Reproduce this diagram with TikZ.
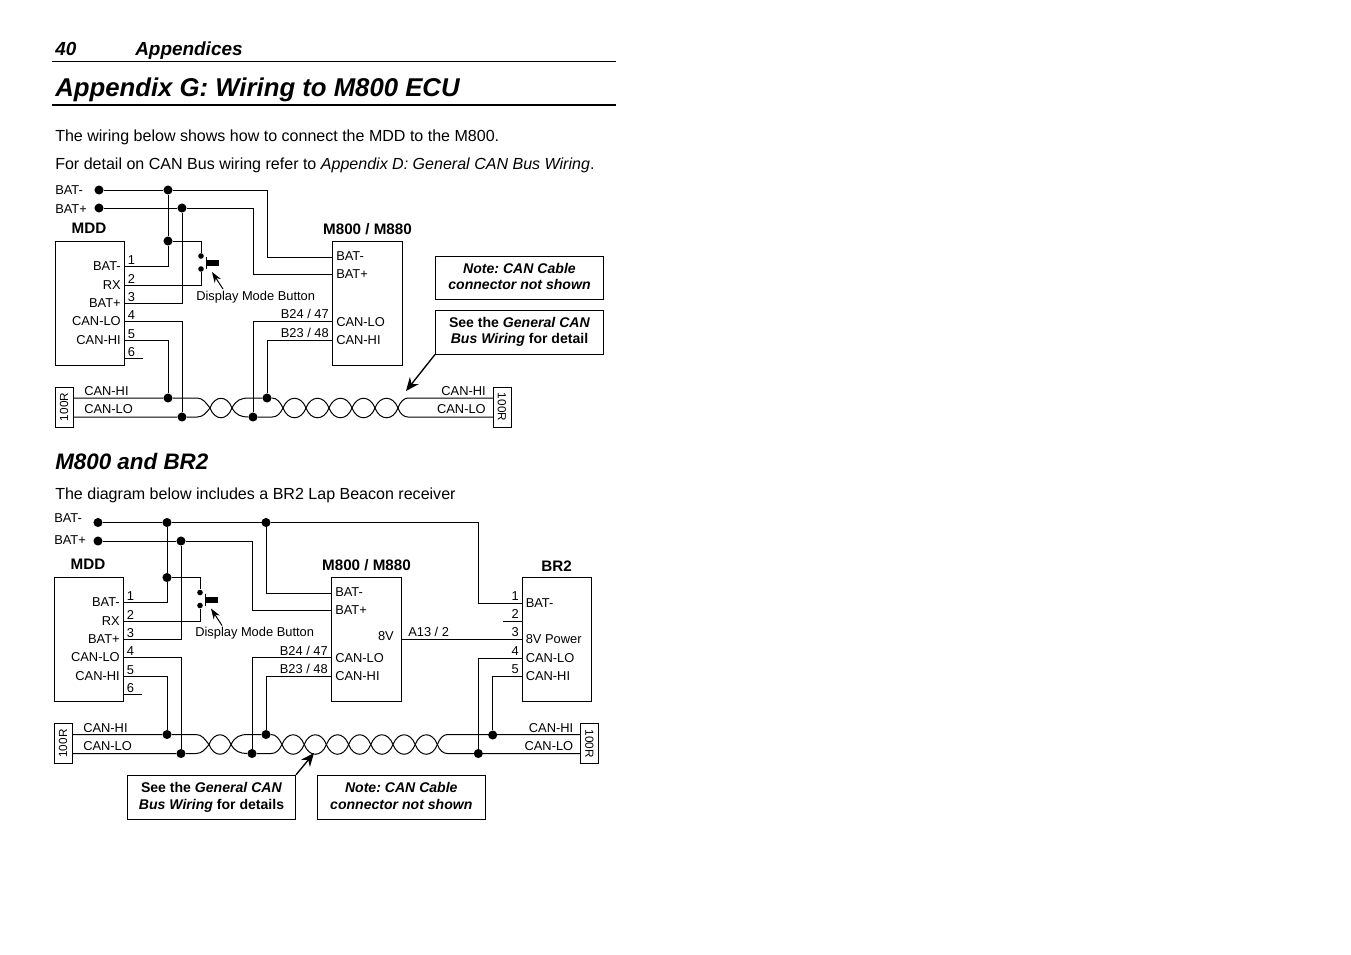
\documentclass[tikz,border=0pt]{standalone}
\usepackage{fontspec}
\setmainfont{Liberation Sans}
\usetikzlibrary{arrows.meta}
\tikzset{
    wire/.style={line width=0.75pt},
    devbox/.style={draw, line width=0.75pt, minimum width=52.2pt, minimum height=93pt, inner sep=0pt},
    resbox/.style={draw, line width=0.75pt, minimum width=30pt, minimum height=13.5pt, inner sep=0pt, font=\fontsize{8.8}{10}\selectfont, text height=6.3pt, text depth=0pt},
    notebox/.style={draw, line width=0.75pt, minimum width=126pt, align=center, inner sep=0pt, font=\fontsize{10.55}{12.1}\selectfont\bfseries},
    lbl/.style={inner sep=0pt, font=\fontsize{9.65}{11}\selectfont, text height=7pt, text depth=0pt},
    devname/.style={inner sep=0pt, font=\fontsize{11.4}{13}\selectfont\bfseries, text height=8.2pt, text depth=0pt},
    junction/.style={circle, fill=black, inner sep=0pt, minimum size=6.8pt},
    swdot/.style={circle, fill=black, inner sep=0pt, minimum size=4.2pt},
    callout/.style={line width=1pt, -{Stealth[length=10pt, width=8.5pt]}},
    btnarrow/.style={line width=0.75pt, -{Stealth[length=8pt, width=5.5pt]}},
}
\begin{document}
\frenchspacing
\begin{tikzpicture}[x=0.75pt, y=-0.75pt]
    \useasboundingbox (0,0) rectangle (1351,954);

    % page text
    \node[anchor=base west, inner sep=0pt, font=\fontsize{14.2}{16}\selectfont\bfseries\itshape] (pagenum) at (55,55) {40};
    \node[anchor=base west, inner sep=0pt, font=\fontsize{14.2}{16}\selectfont\bfseries\itshape] (pagehead) at (135,55) {Appendices};
    \draw[line width=0.75pt] (52,61.5) -- (616,61.5);
    \node[anchor=base west, inner sep=0pt, font=\fontsize{19.3}{24}\selectfont\bfseries\itshape] (title) at (55,96) {Appendix G: Wiring to M800 ECU};
    \draw[line width=2.2pt] (52,105) -- (616,105);
    \node[anchor=base west, inner sep=0pt, font=\fontsize{12.03}{14}\selectfont] (introa) at (55,141) {The wiring below shows how to connect the MDD to the M800.};
    \node[anchor=base west, inner sep=0pt, font=\fontsize{12.03}{14}\selectfont] (introb) at (55,169) {For detail on CAN Bus wiring refer to \textit{Appendix D: General CAN Bus Wiring}.};
    \node[anchor=base west, inner sep=0pt, font=\fontsize{16.8}{20}\selectfont\bfseries\itshape] (subtitle) at (55,469) {M800 and BR2};
    \node[anchor=base west, inner sep=0pt, font=\fontsize{12.03}{14}\selectfont] (introc) at (55,499) {The diagram below includes a BR2 Lap Beacon receiver};

    % the part both wiring diagrams share
    \foreach \d/\xs/\ys/\ym/\yp/\ylm/\ylp/\nl/\dl/\xres in {a/0/0/190/208/189.5/208.5/5/23/502, b/-1/336.5/186/204.5/181.5/203.5/7/22.2/590.5} {
    \begin{scope}[shift={(\xs,\ys)}, name prefix=\d-]
        \pgfmathsetmacro\xlast{283+\nl*\dl}
        \pgfmathsetmacro\xflat{\xlast+10}

        \node[devbox] (mdd) at (89.8,303) {};
        \node[devbox, minimum width=52.5pt] (m800) at (367.2,303) {};
        \node[devname] (mddname) at (89,228) {MDD};
        \node[devname] (m800name) at (367.5,229) {M800 / M880};

        \foreach \i/\y/\t in {1/266/BAT-, 2/285/RX, 3/303/BAT+, 4/321/CAN-LO, 5/340/CAN-HI, 6/358/} {
            \coordinate (pin\i) at (124.4,\y);
            \node[lbl, anchor=west] (num\i) at (127.5,\y-6.5) {\i};
            \node[lbl, anchor=east] (pinlbl\i) at (121,\y-0.5) {\t};
        }
        \foreach \i/\y/\lbly/\t in {1/257/255.5/BAT-, 2/274/273.5/BAT+, 3/321/321.5/CAN-LO, 4/340/339.5/CAN-HI} {
            \coordinate (mpin\i) at (332,\y);
            \node[lbl, anchor=west] (mlbl\i) at (336,\lbly) {\t};
        }
        \node[lbl, anchor=east] (b24) at (329,314) {B24 / 47};
        \node[lbl, anchor=east] (b23) at (329,332.5) {B23 / 48};

        % battery rails
        \node[junction] (batm) at (99,\ym) {};
        \node[junction] (batp) at (99,\yp) {};
        \node[lbl, anchor=west] (batmlbl) at (55,\ylm) {BAT-};
        \node[lbl, anchor=west] (batplbl) at (55,\ylp) {BAT+};
        \node[junction] (jm) at (168,\ym) {};
        \node[junction] (jp) at (182,\yp) {};
        \node[junction] (jsw) at (168,241) {};
        \coordinate (tm) at (267,\ym);
        \coordinate (tp) at (253,\yp);
        \draw[wire] (batm) -- (jm) -- (tm) |- (mpin1);
        \draw[wire] (batp) -- (jp) -- (tp) |- (mpin2);
        \draw[wire] (jm) -- (jsw);
        \draw[wire] (jsw) -- (pin1 -| jsw) -- (pin1);
        \draw[wire] (pin3) -| (jp);

        % button
        \node[swdot] (swtop) at (201,256) {};
        \node[swdot] (swbot) at (201,269) {};
        \draw[wire] (jsw) -| (swtop);
        \draw[wire] (pin2) -| (swbot);
        \draw[line width=0.75pt] (206.3,257) -- (206.3,269);
        \node[fill=black, inner sep=0pt, minimum width=9pt, minimum height=4.5pt] (swcap) at (212.5,263) {};
        \node[lbl, anchor=west] (btnlbl) at (196,295.5) {Display Mode Button};
        \coordinate (btntail) at (223,289);
        \coordinate (btntip) at (212,272);
        \draw[btnarrow] (btntail) -- (btntip);

        % can cable
        \node[resbox, rotate=90] (resl) at (64,407) {100R};
        \node[resbox, rotate=-90] (resr) at (\xres,407) {100R};
        \coordinate (hil) at (73,398);
        \coordinate (lol) at (73,417);
        \coordinate (hir) at (\xres-9,398);
        \coordinate (lor) at (\xres-9,417);
        \node[lbl, anchor=west] (hillbl) at (84,391) {CAN-HI};
        \node[lbl, anchor=west] (lollbl) at (84,409) {CAN-LO};
        \node[lbl, anchor=east] (hirlbl) at (\xres-16,391) {CAN-HI};
        \node[lbl, anchor=east] (lorlbl) at (\xres-16,409) {CAN-LO};
        \node[junction] (jhia) at (168,398) {};
        \node[junction] (jloa) at (182,417) {};
        \node[junction] (jlob) at (253,417) {};
        \node[junction] (jhib) at (267,398) {};
        \draw[wire] (pin4) -| (jloa);
        \draw[wire] (pin5) -| (jhia);
        \draw[wire] (mpin3) -| (jlob);
        \draw[wire] (mpin4) -| (jhib);
        \draw[wire] (pin6) -- ++(18.5,0);

        \draw[wire] (hil) -- (jhia) -- (197,398) .. controls (203,398) and (206,403) .. (210,408) .. controls (215,421) and (227,421) .. (232,408) .. controls (236,400) and (241,398) .. (249,398) -- (jhib) -- (272,398) .. controls (277,398) and (280,402) .. (283,408);
        \draw[wire] (lol) -- (jloa) -- (197,417) .. controls (203,417) and (206,413) .. (210,408) .. controls (215,395) and (227,395) .. (232,408) .. controls (236,415) and (241,417) .. (jlob) -- (272,417) .. controls (277,417) and (280,414) .. (283,408);
        \foreach \i in {1,...,\nl} {
            \pgfmathsetmacro\xa{283+(\i-1)*\dl}
            \pgfmathsetmacro\xb{283+\i*\dl}
            \draw[wire] (\xa,408) .. controls (\xa+5,395) and (\xb-5,395) .. (\xb,408);
            \draw[wire] (\xa,408) .. controls (\xa+5,421) and (\xb-5,421) .. (\xb,408);
        }
        \draw[wire] (\xlast,408) .. controls (\xlast+2,402) and (\xflat-4,398) .. (\xflat,398) -- (hir);
        \draw[wire] (\xlast,408) .. controls (\xlast+2,414) and (\xflat-4,417) .. (\xflat,417) -- (lor);
    \end{scope}
    }

    % notes of the first diagram
    \node[notebox, minimum height=32pt] (notea) at (519.5,278) {\textit{Note: CAN Cable}\\\textit{connector not shown}\rule[-2.2pt]{0pt}{1pt}};
    \node[notebox, minimum height=33pt] (seea) at (519.5,332) {See the \textit{General CAN}\\\textit{Bus Wiring} for detail};
    \coordinate (seeatip) at (406,391);
    \draw[callout] (seea.south west) -- (seeatip);

    % second diagram: rail on to the br2
    \node[devbox] (br2) at (556.8,639.7) {};
    \node[devname] (br2name) at (556.5,566) {BR2};
    \foreach \i/\y/\t in {1/603.3/BAT-, 2/621.3/, 3/639.3/8V Power, 4/658/CAN-LO, 5/676.3/CAN-HI} {
        \coordinate (brpin\i) at (522.3,\y);
        \node[lbl, anchor=east] (brnum\i) at (519,\y-7.5) {\i};
        \node[lbl, anchor=west] (brlbl\i) at (525.5,\y) {\t};
    }
    \node[junction] (jtop) at (266,522.5) {};
    \coordinate (railcorner) at (478.3,522.5);
    \draw[wire] (jtop) -- (railcorner) |- (brpin1);
    \draw[wire] (brpin2) -- ++(-19,0);
    \coordinate (m8v) at (401.5,639.3);
    \node[lbl, anchor=east] (lbl8v) at (394,635.5) {8V};
    \node[lbl, anchor=west] (lbla13) at (408,632) {A13 / 2};
    \draw[wire] (m8v) -- (brpin3);
    \node[junction] (jbrlo) at (478.3,753.5) {};
    \node[junction] (jbrhi) at (492.7,735) {};
    \draw[wire] (brpin4) -| (jbrlo);
    \draw[wire] (brpin5) -| (jbrhi);

    % notes of the second diagram
    \node[notebox, minimum height=33pt] (seeb) at (211.5,797.3) {See the \textit{General CAN}\\\textit{Bus Wiring} for details};
    \node[notebox, minimum height=33pt] (noteb) at (401.3,797.3) {\textit{Note: CAN Cable}\\\textit{connector not shown}\rule[-2.2pt]{0pt}{1pt}};
    \coordinate (seebtip) at (314,753);
    \draw[callout] (seeb.north east) -- (seebtip);
\end{tikzpicture}
\end{document}
